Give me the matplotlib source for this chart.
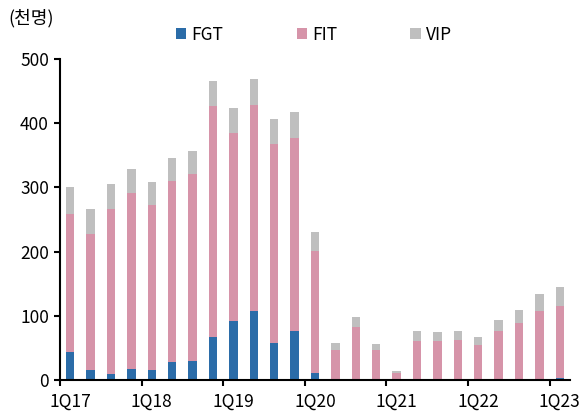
import numpy as np
import matplotlib.pyplot as plt

plt.rcParams['font.family'] = ['Noto Sans CJK KR', 'DejaVu Sans']

quarters = [f"{q}Q{y}" for y in range(17, 24) for q in range(1, 5)][:25]
fgt = [44, 15, 9, 17, 16, 28, 30, 67, 92, 108, 58, 76, 11, 0, 0, 0, 0, 0, 0, 0, 0, 0, 0, 1, 3]
fit = [215, 213, 257, 275, 257, 282, 291, 360, 293, 320, 309, 301, 190, 47, 82, 46, 11, 61, 60, 62, 55, 77, 89, 107, 113]
vip = [42, 38, 39, 36, 35, 36, 36, 39, 39, 41, 40, 41, 29, 10, 16, 10, 3, 15, 15, 15, 12, 17, 20, 26, 29]

x = np.arange(len(quarters))
fgt = np.array(fgt)
fit = np.array(fit)
vip = np.array(vip)

fig = plt.figure(figsize=(5.8, 4.19), dpi=100)
ax = fig.add_axes([60/580, 1 - 380/419, 510/580, 321/419])

w = 0.42
ax.bar(x, fgt, w, color='#2B6CA8', label='FGT')
ax.bar(x, fit, w, bottom=fgt, color='#D694A9', label='FIT')
ax.bar(x, vip, w, bottom=fgt + fit, color='#BFBFBF', label='VIP')

ax.set_xlim(-0.5, len(x) - 0.5)
ax.set_ylim(0, 500)
ax.set_yticks(range(0, 501, 100))

# ticks at year boundaries, labels under first quarter of each year
ax.set_xticks(np.arange(-0.5, len(x), 4))
ax.set_xticklabels([])
ax.set_xticks(x[::4], quarters[::4], minor=True)
ax.tick_params(axis='x', which='major', length=4, width=1.5, direction='out')
ax.tick_params(axis='x', which='minor', length=0, pad=9, labelsize=12.5)
ax.tick_params(axis='y', length=4, width=1.5, labelsize=12.5, pad=4)

for s in ['top', 'right']:
    ax.spines[s].set_visible(False)
for s in ['left', 'bottom']:
    ax.spines[s].set_linewidth(1.5)

fig.text(8/580, 1 - 18/419, '(천명)', fontsize=13, va='center', ha='left')
fig.legend(loc='center', bbox_to_anchor=(314/580, 1 - 35/419), ncol=3, frameon=False,
           fontsize=12.5, handlelength=0.6, handleheight=0.6, handletextpad=0.3,
           columnspacing=4.2)

fig.savefig('out.png', dpi=100)
